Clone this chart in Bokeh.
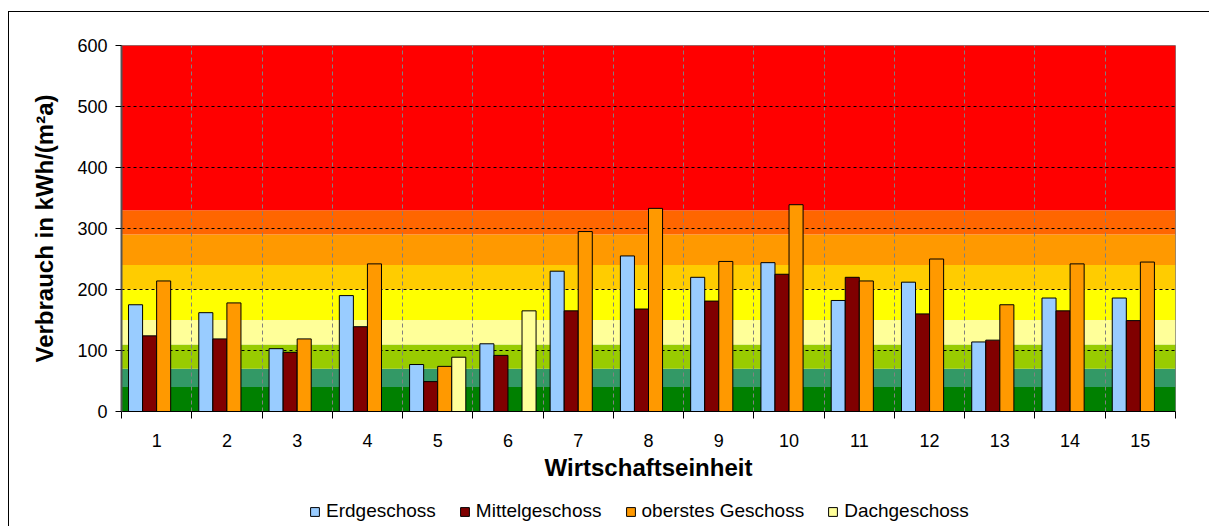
from bokeh.plotting import figure
from bokeh.models import FixedTicker, Legend, LegendItem, ColumnDataSource
from bokeh.layouts import column
from bokeh.transform import dodge
from bokeh.embed import file_html
from bokeh.resources import INLINE

NaN = float("nan")

# ---- data ----
categories = list(range(1, 16))
erdgeschoss = [175, 162, 103, 190, 77, 111, 230, 255, 220, 244, 182, 212, 114, 186, 186]
mittelgeschoss = [124, 119, 97, 139, 49, 92, 165, 168, 181, 225, 220, 160, 117, 165, 149]
oberstes = [214, 178, 119, 242, 74, NaN, 295, 333, 246, 339, 214, 250, 175, 242, 245]
dachgeschoss = [NaN, NaN, NaN, NaN, 89, 165, NaN, NaN, NaN, NaN, NaN, NaN, NaN, NaN, NaN]

series_names = ["Erdgeschoss", "Mittelgeschoss", "oberstes Geschoss", "Dachgeschoss"]
series_colors = ["#99CCFF", "#800000", "#FF9900", "#FFFF99"]

band_bottoms = [0, 40, 70, 110, 150, 200, 240, 290, 330]
band_tops = [40, 70, 110, 150, 200, 240, 290, 330, 600]
band_colors = ["#008000", "#339966", "#99CC00", "#FFFF99", "#FFFF00",
               "#FFCC00", "#FF9900", "#FF6600", "#FF0000"]

y_ticks = [0, 100, 200, 300, 400, 500, 600]

FONT = "Liberation Sans"

x_lo = categories[0] - 0.5
x_hi = categories[-1] + 0.5

p = figure(width=1200, height=484, x_range=(x_lo, x_hi), y_range=(0, 600),
           output_backend="svg", toolbar_location=None,
           min_border_left=112, min_border_right=34, min_border_top=33,
           min_border_bottom=85)

# background bands
band_src = ColumnDataSource(dict(bottom=band_bottoms, top=band_tops, color=band_colors,
                                 left=[x_lo] * len(band_tops), right=[x_hi] * len(band_tops)))
p.quad(left="left", right="right", bottom="bottom", top="top", fill_color="color",
       line_color=None, source=band_src, level="image")

# bars
src = ColumnDataSource(dict(x=categories, e=erdgeschoss, m=mittelgeschoss,
                            o=oberstes, d=dachgeschoss))
offsets = [-0.3, -0.1, 0.1, 0.3]
fields = ["e", "m", "o", "d"]
for f, off, col in zip(fields, offsets, series_colors):
    p.vbar(x=dodge("x", off), top=f, bottom=0, width=0.2, source=src,
           fill_color=col, line_color="black", line_width=1)

# grids
p.ygrid.ticker = FixedTicker(ticks=y_ticks[1:])
p.ygrid.grid_line_color = "black"
p.ygrid.grid_line_dash = "3 3"
p.ygrid.grid_line_width = 1
p.xgrid.ticker = FixedTicker(ticks=[c + 0.5 for c in categories[:-1]])
p.xgrid.grid_line_color = "#808080"
p.xgrid.grid_line_dash = "4 3"
p.xgrid.grid_line_width = 1

p.outline_line_color = "#808080"
p.outline_line_width = 1

# x axis
xa = p.xaxis[0]
xa.ticker = FixedTicker(ticks=categories, minor_ticks=[c - 0.5 for c in categories] + [x_hi])
xa.major_tick_out = 0
xa.major_tick_in = 0
xa.minor_tick_out = 7
xa.minor_tick_in = 0
xa.minor_tick_line_color = "black"
xa.axis_line_color = "black"
xa.major_label_standoff = 15
xa.major_label_text_font = FONT
xa.major_label_text_font_size = "18px"
xa.major_label_text_color = "black"
xa.axis_label = "Wirtschaftseinheit"
xa.axis_label_text_font = FONT
xa.axis_label_text_font_style = "bold"
xa.axis_label_text_font_size = "24px"
xa.axis_label_text_color = "black"
xa.axis_label_standoff = 4

# y axis
ya = p.yaxis[0]
ya.ticker = FixedTicker(ticks=y_ticks)
ya.major_tick_out = 6
ya.major_tick_in = 0
ya.minor_tick_out = 0
ya.minor_tick_in = 0
ya.major_tick_line_color = "black"
ya.axis_line_color = "#555555"
ya.axis_line_width = 2
ya.major_label_standoff = 8
ya.major_label_text_font = FONT
ya.major_label_text_font_size = "18px"
ya.major_label_text_color = "black"
ya.axis_label = "Verbrauch in kWh/(m²a)"
ya.axis_label_text_font = FONT
ya.axis_label_text_font_style = "bold"
ya.axis_label_text_font_size = "24px"
ya.axis_label_text_color = "black"
ya.axis_label_standoff = 16

# legend strip (separate small figure below the chart; its frame aligns with p's frame)
lf = figure(width=1200, height=30, x_range=(0, 1), y_range=(0, 1),
            output_backend="svg", toolbar_location=None,
            x_axis_type=None, y_axis_type=None,
            min_border_left=0, min_border_right=0, min_border_top=0, min_border_bottom=0)
lf.grid.visible = False
lf.outline_line_color = None
items = []
for n, col in zip(series_names, series_colors):
    # swatch-only renderer, hidden in the strip itself
    r = lf.vbar(x=[0.5], top=[0.5], width=0.1, fill_color=col, line_color="black",
                line_width=1, visible=False)
    items.append(LegendItem(label=n, renderers=[r]))
legend = Legend(items=items, orientation="horizontal", location=(188, 4),
                glyph_width=11, glyph_height=11, label_standoff=6, spacing=23,
                label_height=20, padding=0, margin=0, border_line_color=None,
                background_fill_alpha=0, label_text_font=FONT,
                inactive_fill_alpha=0,
                label_text_font_size="19px", label_text_color="black")
lf.add_layout(legend, "center")

layout = column(p, lf, spacing=0)
layout.styles = {"border-top": "1px solid black", "border-left": "1px solid black",
                 "margin-top": "11px", "margin-left": "8px"}

open("out.html", "w").write(file_html(layout, INLINE))
